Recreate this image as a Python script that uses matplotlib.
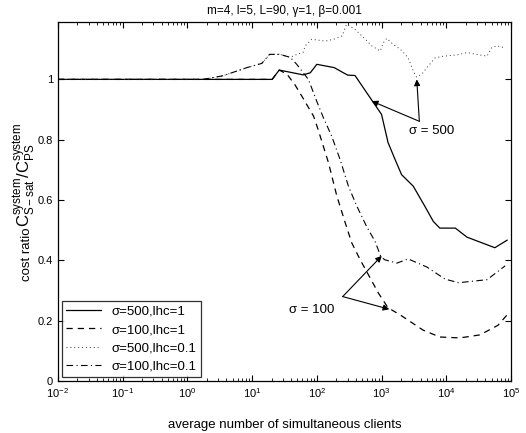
import matplotlib
matplotlib.use('Agg')
import matplotlib.pyplot as plt
import numpy as np

plt.rcParams['font.family'] = ['Liberation Sans', 'DejaVu Sans']
plt.rcParams['mathtext.fontset'] = 'custom'
plt.rcParams['mathtext.rm'] = 'Liberation Sans'
plt.rcParams['mathtext.it'] = 'Liberation Sans'

# log10 of the number of clients, and cost ratio
lx_s500_1 = [-2.0, 1.31, 1.42, 1.79, 1.90, 2.00, 2.27, 2.41, 2.48, 2.59, 2.84, 3.00, 3.10,
             3.21, 3.31, 3.49, 3.67, 3.80, 3.90, 4.14, 4.32, 4.75, 4.94]
y_s500_1 = [1.0, 1.0, 1.031, 1.015, 1.022, 1.050, 1.039, 1.022, 1.014, 1.013, 0.934, 0.884, 0.791,
            0.734, 0.684, 0.646, 0.579, 0.529, 0.507, 0.507, 0.477, 0.442, 0.467]

lx_s100_1 = [-2.0, 1.31, 1.42, 1.54, 1.66, 1.77, 1.95, 2.02, 2.18, 2.31, 2.44, 2.54, 2.67,
             2.77, 2.95, 3.10, 3.29, 3.64, 3.90, 4.21, 4.52, 4.80, 4.95]
y_s100_1 = [1.0, 1.0, 1.031, 1.017, 0.983, 0.944, 0.878, 0.834, 0.724, 0.613, 0.524, 0.458, 0.402,
            0.363, 0.292, 0.243, 0.219, 0.169, 0.146, 0.143, 0.153, 0.185, 0.222]

lx_s500_01 = [-2.0, 0.24, 0.55, 0.92, 1.15, 1.27, 1.43, 1.59, 1.66, 1.79, 1.82, 1.92, 2.13,
              2.26, 2.39, 2.46, 2.59, 2.75, 2.85, 2.98, 3.03, 3.08, 3.18, 3.29, 3.41, 3.49,
              3.54, 3.62, 3.72, 3.83, 3.96, 4.16, 4.32, 4.47, 4.63, 4.70, 4.78, 4.91]
y_s500_01 = [1.0, 1.0, 1.012, 1.039, 1.053, 1.083, 1.083, 1.073, 1.080, 1.090, 1.111, 1.133, 1.127,
             1.133, 1.144, 1.183, 1.166, 1.133, 1.111, 1.094, 1.122, 1.136, 1.116, 1.100, 1.072, 1.028,
             1.008, 1.017, 1.044, 1.072, 1.077, 1.081, 1.089, 1.083, 1.077, 1.105, 1.111, 1.105]

lx_s100_01 = [-2.0, 0.24, 0.55, 0.92, 1.15, 1.27, 1.43, 1.59, 1.69, 1.87, 2.00, 2.10, 2.23,
              2.36, 2.49, 2.62, 2.77, 2.90, 2.99, 3.05, 3.24, 3.41, 3.70, 3.98, 4.19, 4.63, 4.91]
y_s100_01 = [1.0, 1.0, 1.012, 1.039, 1.053, 1.083, 1.083, 1.073, 1.050, 1.0, 0.927, 0.874, 0.812,
             0.734, 0.645, 0.579, 0.512, 0.463, 0.412, 0.402, 0.391, 0.405, 0.378, 0.338, 0.326, 0.336, 0.382]

labels = ['σ=500,lhc=1', 'σ=100,lhc=1', 'σ=500,lhc=0.1', 'σ=100,lhc=0.1']

W, H = 526, 433
fig = plt.figure(figsize=(W / 100, H / 100), dpi=100)
ax = fig.add_axes([0.110, 0.120, 0.8615, 0.829])

ax.plot(10 ** np.array(lx_s500_1), y_s500_1, color='k', lw=0.9, ls='-', label=labels[0])
ax.plot(10 ** np.array(lx_s100_1), y_s100_1, color='k', lw=0.9, ls=(0, (5, 4)), label=labels[1])
ax.plot(10 ** np.array(lx_s500_01), y_s500_01, color='#333333', lw=0.7, ls=(0, (1, 3)), label=labels[2])
ax.plot(10 ** np.array(lx_s100_01), y_s100_01, color='k', lw=0.8, ls=(0, (6, 3, 1, 3)), label=labels[3])

ax.set_xscale('log')
ax.set_xlim(1e-2, 1e5)
ax.set_ylim(0, 1.19)
ax.set_yticks([0, 0.2, 0.4, 0.6, 0.8, 1.0])
ax.set_yticklabels(['0', '0.2', '0.4', '0.6', '0.8', '1'])
ax.set_xticks([10.0 ** k for k in range(-2, 6)])
ax.tick_params(which='both', direction='in', top=True, right=True, labelsize=8)
ax.tick_params(which='major', length=4)
ax.tick_params(which='minor', length=2)
for s in ax.spines.values():
    s.set_linewidth(0.9)

ax.set_title('m=4, l=5, L=90, γ=1, β=0.001', fontsize=8.5, pad=6)
ax.set_xlabel('average number of simultaneous clients', fontsize=9.5, labelpad=14)

# y label: plain part and the C ratio part (bigger scripts, as in the original)
fig.text(30 / W, 1 - 281 / H, 'cost ratio ', fontsize=9.5, rotation=90,
         rotation_mode='anchor', ha='left', va='baseline')
fig.text(30 / W, 1 - 227 / H, r'$\mathrm{C^{system}_{S-sat}/C^{system}_{PS}}$', fontsize=12,
         rotation=90, rotation_mode='anchor', ha='left', va='baseline')

arrow = dict(arrowstyle='-|>', color='k', lw=0.8, mutation_scale=9, shrinkA=0, shrinkB=0)
ax.annotate('', xy=(10 ** 2.848, 0.928), xytext=(10 ** 3.584, 0.861), arrowprops=arrow)
ax.annotate('', xy=(10 ** 3.544, 1.0), xytext=(10 ** 3.584, 0.861), arrowprops=arrow)
ax.text(10 ** 3.425, 0.828, 'σ = 500', fontsize=9.5, ha='left', va='center')
ax.annotate('', xy=(10 ** 3.003, 0.415), xytext=(10 ** 2.40, 0.280), arrowprops=arrow)
ax.annotate('', xy=(10 ** 3.12, 0.238), xytext=(10 ** 2.40, 0.280), arrowprops=arrow)
ax.text(10 ** 1.575, 0.234, 'σ = 100', fontsize=9.5, ha='left', va='center')

leg = ax.legend(loc='lower left', fontsize=9.5, frameon=True, fancybox=False, edgecolor='k',
                handlelength=2.6, labelspacing=0.45, borderpad=0.35, borderaxespad=0.3)
leg.get_frame().set_linewidth(0.9)

fig.savefig('out.png', dpi=100)
